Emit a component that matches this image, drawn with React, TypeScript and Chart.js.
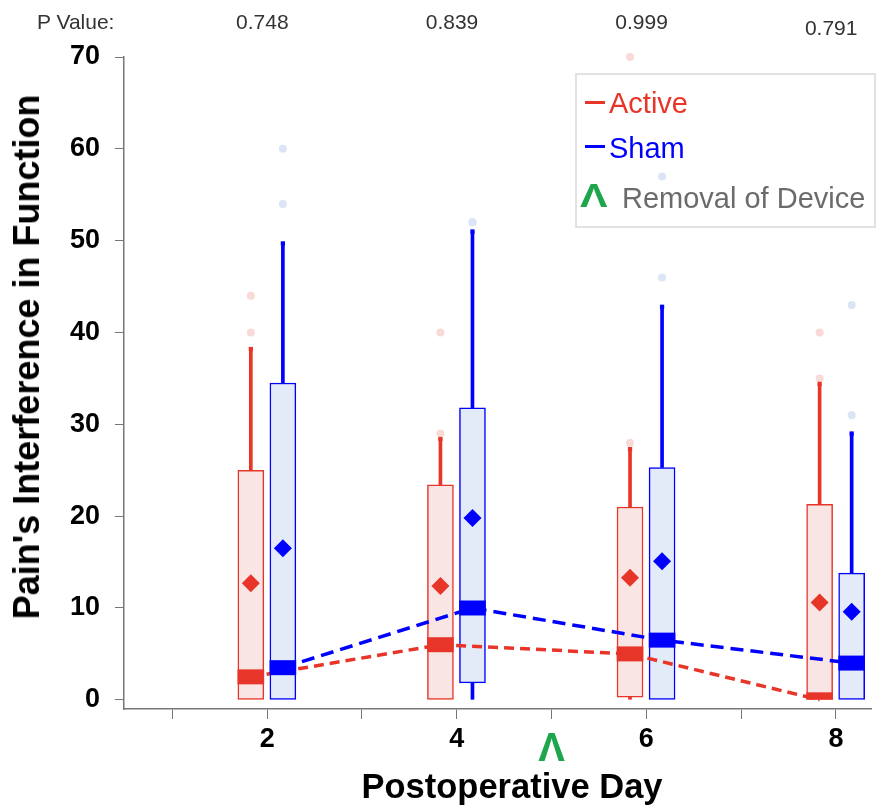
import React, { useEffect, useRef, useState } from 'react';
import { Chart, registerables } from 'chart.js';

Chart.register(...registerables);

// ---------------- data ----------------
const days = [2, 4, 6, 8];
const xTicks = [1, 2, 3, 4, 5, 6, 7, 8];
const yTicks = [0, 10, 20, 30, 40, 50, 60, 70];
const pValues = ['0.748', '0.839', '0.999', '0.791'];
const removalDay = 5;

const activeMin = [0, 0, 0, 0];
const activeQ1 = [0, 0, 0.3, 0];
const activeMedian = [2.5, 6, 5, 0];
const activeQ3 = [25, 23.4, 21, 21.3];
const activeMax = [38.2, 28.4, 27.3, 34.4];
const activeMean = [12.7, 12.4, 13.3, 10.6];
const activeOutliers = [[40, 44], [29, 40], [28, 70], [35, 40]];

const shamMin = [0, 0, 0, 0];
const shamQ1 = [0, 1.85, 0, 0];
const shamMedian = [3.5, 10, 6.5, 4];
const shamQ3 = [34.5, 31.8, 25.3, 13.8];
const shamMax = [49.7, 51, 42.8, 29];
const shamMean = [16.5, 19.8, 15.1, 9.6];
const shamOutliers = [[54, 60], [52, 52], [46, 57], [31, 43]];

// ---------------- styles ----------------
const FONT = "'Liberation Sans', Arial, Helvetica, sans-serif";
const RED = '#e8352a';
const RED_FILL = '#f9e6e4';
const RED_OUT = '#f8dad7';
const BLUE = '#0000ff';
const BLUE_FILL = '#e3eaf8';
const BLUE_OUT = '#dce5f6';
const GREEN = '#1ea64c';
const ACTIVE_OFFSET = -0.172;
const SHAM_OFFSET = 0.166;
const BAND_HALF = 0.78;

function groupDatasets(g: any) {
  const xs = days.map((d) => d + g.off);
  return [
    {
      type: 'bar',
      label: g.name + ' whisker',
      data: xs.map((x, i) => ({ x, y: [g.q3[i], g.max[i]] })),
      backgroundColor: g.color,
      borderWidth: 0,
      barThickness: 3,
      grouped: false,
      order: 10,
    },
    {
      type: 'bar',
      label: g.name + ' lower whisker',
      data: xs
        .map((x, i) => (g.q1[i] > g.min[i] ? { x, y: [g.min[i], g.q1[i]] } : null))
        .filter(Boolean),
      backgroundColor: g.color,
      borderWidth: 0,
      barThickness: 3,
      grouped: false,
      order: 10,
    },
    {
      type: 'bar',
      label: g.name + ' box',
      data: xs.map((x, i) => ({ x, y: [g.q1[i], g.q3[i]] })),
      backgroundColor: g.fill,
      borderColor: g.color,
      borderWidth: 1.5,
      borderSkipped: false,
      barThickness: 26,
      grouped: false,
      order: 9,
    },
    {
      type: 'scatter',
      label: g.name + ' outliers',
      data: xs.flatMap((x, i) => g.outliers[i].map((v: number) => ({ x, y: v }))),
      pointRadius: 4,
      pointBackgroundColor: g.outColor,
      pointBorderWidth: 0,
      clip: false,
      order: 8,
    },
    {
      type: 'line',
      label: g.name + ' median trend',
      data: xs.map((x, i) => ({ x, y: g.med[i] })),
      borderColor: g.color,
      borderWidth: 3.5,
      borderDash: g.dash,
      pointRadius: 0,
      fill: false,
      tension: 0,
      clip: false,
      order: 7,
    },
    {
      type: 'bar',
      label: g.name + ' median',
      data: xs.map((x, i) => ({
        x,
        y: [Math.max(g.q1[i], g.med[i] - BAND_HALF), Math.min(g.q3[i], g.med[i] + BAND_HALF)],
      })),
      backgroundColor: g.color,
      borderWidth: 0,
      barThickness: 26,
      grouped: false,
      order: 6,
    },
    {
      type: 'scatter',
      label: g.name + ' cap',
      data: xs.map((x, i) => ({ x, y: g.max[i] })),
      pointStyle: 'rect',
      pointRadius: 3,
      pointBackgroundColor: g.color,
      pointBorderWidth: 0,
      clip: false,
      order: 6,
    },
    {
      type: 'scatter',
      label: g.name + ' mean',
      data: xs.map((x, i) => ({ x, y: g.mean[i] })),
      pointStyle: 'rectRot',
      pointRadius: 9,
      pointBackgroundColor: g.color,
      pointBorderWidth: 0,
      clip: false,
      order: 5,
    },
  ];
}

export default function App() {
  const canvasRef = useRef<HTMLCanvasElement>(null);
  const [pos, setPos] = useState<{ p: number[]; removal: number } | null>(null);

  useEffect(() => {
    const datasets: any[] = [
      ...groupDatasets({
        name: 'Active', off: ACTIVE_OFFSET, color: RED, fill: RED_FILL, outColor: RED_OUT,
        min: activeMin, q1: activeQ1, med: activeMedian, q3: activeQ3, max: activeMax,
        mean: activeMean, outliers: activeOutliers, dash: [10, 6],
      }),
      ...groupDatasets({
        name: 'Sham', off: SHAM_OFFSET, color: BLUE, fill: BLUE_FILL, outColor: BLUE_OUT,
        min: shamMin, q1: shamQ1, med: shamMedian, q3: shamQ3, max: shamMax,
        mean: shamMean, outliers: shamOutliers, dash: [13, 7],
      }),
    ];
    const tickFont = { family: FONT, size: 27, weight: 'bold' as const };
    const chart = new Chart(canvasRef.current as HTMLCanvasElement, {
      type: 'bar',
      data: { datasets },
      options: {
        responsive: false,
        animation: false,
        devicePixelRatio: 1,
        events: [],
        layout: { padding: { top: 57, right: 4, left: 0, bottom: 0 } },
        plugins: { legend: { display: false }, tooltip: { enabled: false } },
        scales: {
          x: {
            type: 'linear',
            min: 0.49,
            max: 8.37,
            offset: false,
            grid: { display: true, drawOnChartArea: false, drawTicks: true, tickLength: 10, color: '#777', lineWidth: 1, offset: false },
            border: { display: true, color: '#777', width: 1.5 },
            ticks: {
              autoSkip: false,
              maxRotation: 0,
              padding: 4,
              color: '#000',
              font: tickFont,
              callback: (v: any) => (Number(v) % 2 === 0 ? String(v) : ''),
            },
            afterBuildTicks: (s: any) => {
              s.ticks = xTicks.map((v) => ({ value: v }));
            },
            afterFit: (s: any) => {
              s.height = 103;
            },
          },
          y: {
            type: 'linear',
            min: -1,
            max: 70,
            grid: { display: true, drawOnChartArea: false, drawTicks: true, tickLength: 9, color: '#777', lineWidth: 1 },
            border: { display: true, color: '#777', width: 1.5 },
            ticks: { padding: 15, color: '#000', font: tickFont },
            afterBuildTicks: (s: any) => {
              s.ticks = yTicks.map((v) => ({ value: v }));
            },
            afterFit: (s: any) => {
              s.width = 124;
            },
          },
        },
      } as any,
    });
    const xs = chart.scales.x;
    setPos({
      p: days.map((d) => xs.getPixelForValue(d - 0.05)),
      removal: xs.getPixelForValue(removalDay),
    });
    return () => chart.destroy();
  }, []);

  const abs: React.CSSProperties = { position: 'absolute', whiteSpace: 'nowrap', lineHeight: 1 };

  return (
    <div style={{ position: 'fixed', left: 0, top: 0, width: 880, height: 812, background: '#fff', fontFamily: FONT }}>
      <canvas ref={canvasRef} width={880} height={812} style={{ position: 'absolute', left: 0, top: 0 }} />

      {/* P values */}
      <div style={{ ...abs, left: 37, top: 11, fontSize: 21, color: '#333' }}>P Value:</div>
      {pos &&
        pValues.map((p, i) => (
          <div
            key={p + i}
            style={{ ...abs, left: pos.p[i], top: i === 3 ? 17 : 11, fontSize: 21, color: '#333', transform: 'translateX(-50%)' }}
          >
            {p}
          </div>
        ))}

      {/* legend */}
      <div style={{ position: 'absolute', left: 575, top: 73, width: 297, height: 151, border: '2px solid #e2e2e2' }} />
      <div style={{ position: 'absolute', left: 585, top: 101, width: 20, height: 3, background: RED }} />
      <div style={{ ...abs, left: 609, top: 88.5, fontSize: 29, color: RED }}>Active</div>
      <div style={{ position: 'absolute', left: 585, top: 145, width: 20, height: 3, background: BLUE }} />
      <div style={{ ...abs, left: 609, top: 133.5, fontSize: 29, color: BLUE }}>Sham</div>
      <div style={{ ...abs, left: 580, top: 179, fontSize: 33, fontWeight: 'bold', color: GREEN, transform: 'scaleX(1.25)', transformOrigin: 'left center' }}>Λ</div>
      <div style={{ ...abs, left: 622, top: 183.5, fontSize: 29, color: '#6b6b6b' }}>Removal of Device</div>

      {/* removal marker under axis */}
      {pos && (
        <div style={{ ...abs, left: pos.removal, top: 727, fontSize: 40, fontWeight: 'bold', color: GREEN, transform: 'translateX(-50%)' }}>Λ</div>
      )}

      {/* axis titles */}
      <div
        style={{ ...abs, left: 27, top: 357, fontSize: 36, fontWeight: 'bold', color: '#000', transform: 'translate(-50%, -50%) rotate(-90deg)' }}
      >
        Pain's Interference in Function
      </div>
      <div style={{ ...abs, left: 512, top: 786, fontSize: 34.5, fontWeight: 'bold', color: '#000', transform: 'translate(-50%, -50%)' }}>
        Postoperative Day
      </div>
    </div>
  );
}
